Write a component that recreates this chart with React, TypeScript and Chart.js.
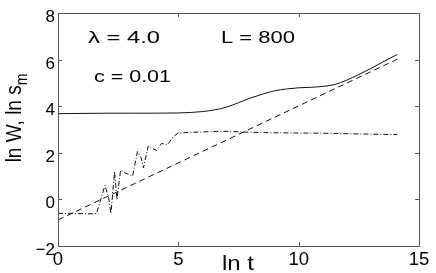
import React, { useEffect, useRef } from "react";
import { Chart, registerables } from "chart.js";

Chart.register(...registerables);

// ln t values and curves
const lnT_W = [0, 1, 2, 3, 4, 5, 5.5, 6, 6.5, 7, 7.5, 8, 8.5, 9, 9.5, 10, 10.5, 11, 11.5, 12, 12.5, 13, 13.5, 14.1];
const lnW = [3.68, 3.69, 3.7, 3.7, 3.7, 3.71, 3.73, 3.77, 3.84, 3.96, 4.15, 4.35, 4.52, 4.66, 4.74, 4.79, 4.81, 4.85, 4.93, 5.12, 5.36, 5.62, 5.9, 6.22];

const lnT_fit = [0, 14.1];
const lnFit = [-0.88, 6.02];

const lnT_s = [0, 0.5, 1, 1.5, 1.6, 1.95, 2.1, 2.2, 2.35, 2.45, 2.6, 2.75, 3.1, 3.3, 3.45, 3.55, 3.75, 3.9, 4.1, 4.3, 4.55, 4.8, 5.0, 5.6, 6.1, 6.6, 7, 7.5, 8, 9, 10, 11, 12, 13, 14.1];
const lnS = [-0.6, -0.6, -0.61, -0.62, -0.6, 0.6, 0.1, -0.6, 1.2, 0.0, 1.25, 1.15, 1.0, 2.05, 1.8, 1.35, 2.3, 2.2, 2.1, 2.4, 2.35, 2.7, 2.85, 2.88, 2.9, 2.92, 2.92, 2.9, 2.88, 2.86, 2.85, 2.84, 2.82, 2.8, 2.78];

const xTicks = [0, 5, 10, 15];
const yTicks = [-2, 0, 2, 4, 6, 8];

const FONT = "'Liberation Sans', Arial, Helvetica, sans-serif";

const toXY = (xs: number[], ys: number[]) => xs.map((x, i) => ({ x, y: ys[i] }));

function stretchText(ctx: CanvasRenderingContext2D, text: string, left: number, baseline: number, size: number, width: number) {
  ctx.save();
  ctx.font = `${size}px ${FONT}`;
  ctx.textAlign = "left";
  ctx.textBaseline = "alphabetic";
  const w = ctx.measureText(text).width;
  ctx.translate(left, baseline);
  ctx.scale(width / w, 1);
  ctx.fillText(text, 0, 0);
  ctx.restore();
}

const framePlugin = {
  id: "frame",
  afterDraw(chart: any) {
    const { ctx, chartArea: a, scales } = chart;
    const xs = scales.x;
    const ys = scales.y;
    ctx.save();
    ctx.strokeStyle = "#555";
    ctx.lineWidth = 1;
    ctx.strokeRect(Math.round(a.left) + 0.5, Math.round(a.top) + 0.5, Math.round(a.right - a.left), Math.round(a.bottom - a.top));
    const tl = 4;
    ctx.beginPath();
    xTicks.forEach((v) => {
      const px = Math.round(xs.getPixelForValue(v)) + 0.5;
      ctx.moveTo(px, a.bottom);
      ctx.lineTo(px, a.bottom - tl);
      ctx.moveTo(px, a.top);
      ctx.lineTo(px, a.top + tl);
    });
    yTicks.forEach((v) => {
      const py = Math.round(ys.getPixelForValue(v)) + 0.5;
      ctx.moveTo(a.left, py);
      ctx.lineTo(a.left + tl, py);
      ctx.moveTo(a.right, py);
      ctx.lineTo(a.right - tl, py);
    });
    ctx.stroke();

    ctx.fillStyle = "#000";
    ctx.textBaseline = "alphabetic";

    // tick labels
    ctx.font = `18.5px ${FONT}`;
    ctx.textAlign = "center";
    xTicks.forEach((v) => {
      ctx.fillText(String(v), xs.getPixelForValue(v), 264.5);
    });
    ctx.font = `17px ${FONT}`;
    ctx.textAlign = "right";
    yTicks.forEach((v) => {
      ctx.fillText(String(v).replace("-", "−"), 55, ys.getPixelForValue(v) + 9);
    });

    // annotations
    stretchText(ctx, "λ = 4.0", 88, 43, 16.5, 72);
    stretchText(ctx, "c = 0.01", 94, 81.5, 16.5, 77);
    stretchText(ctx, "L = 800", 221, 43, 16.5, 74);

    // x axis label
    stretchText(ctx, "ln t", 222, 269.5, 20, 32);

    // y axis label (rotated)
    ctx.save();
    ctx.translate(21, 118);
    ctx.rotate(-Math.PI / 2);
    ctx.scale(1, 1.2);
    ctx.textAlign = "left";
    ctx.font = `19px ${FONT}`;
    const main = "ln W, ln s";
    const w = ctx.measureText(main).width;
    ctx.font = `14px ${FONT}`;
    const wm = ctx.measureText("m").width;
    const start = -(w + wm) / 2;
    ctx.font = `19px ${FONT}`;
    ctx.fillText(main, start, 0);
    ctx.font = `14px ${FONT}`;
    ctx.fillText("m", start + w, 5);
    ctx.restore();

    ctx.restore();
  },
};

export default function App() {
  const ref = useRef<HTMLCanvasElement | null>(null);
  useEffect(() => {
    if (!ref.current) return;
    const line = { borderColor: "#111", borderWidth: 1, pointRadius: 0, fill: false, tension: 0 };
    const chart = new Chart(ref.current, {
      type: "scatter",
      data: {
        datasets: [
          { ...line, data: toXY(lnT_W, lnW), showLine: true, cubicInterpolationMode: "monotone" } as any,
          { ...line, data: toXY(lnT_fit, lnFit), showLine: true, borderDash: [6, 4] } as any,
          { ...line, data: toXY(lnT_s, lnS), showLine: true, borderDash: [5, 2, 1, 2] } as any,
        ],
      },
      options: {
        responsive: false,
        animation: false,
        layout: { padding: { top: 13, right: 17, left: 0, bottom: 0 } },
        plugins: { legend: { display: false }, tooltip: { enabled: false } },
        scales: {
          x: {
            type: "linear",
            min: 0,
            max: 15,
            afterBuildTicks: (s: any) => { s.ticks = xTicks.map((v) => ({ value: v })); },
            afterFit: (s: any) => { s.height = 27; },
            grid: { display: false, drawTicks: false },
            border: { display: false },
            ticks: { display: false },
          },
          y: {
            type: "linear",
            min: -2,
            max: 8,
            afterBuildTicks: (s: any) => { s.ticks = yTicks.map((v) => ({ value: v })); },
            afterFit: (s: any) => { s.width = 58; },
            grid: { display: false, drawTicks: false },
            border: { display: false },
            ticks: { display: false },
          },
        },
      },
      plugins: [framePlugin],
    });
    return () => chart.destroy();
  }, []);
  return (
    <div style={{ position: "fixed", left: 0, top: 0, width: 436, height: 273, background: "#fff" }}>
      <canvas ref={ref} width={436} height={273} />
    </div>
  );
}
